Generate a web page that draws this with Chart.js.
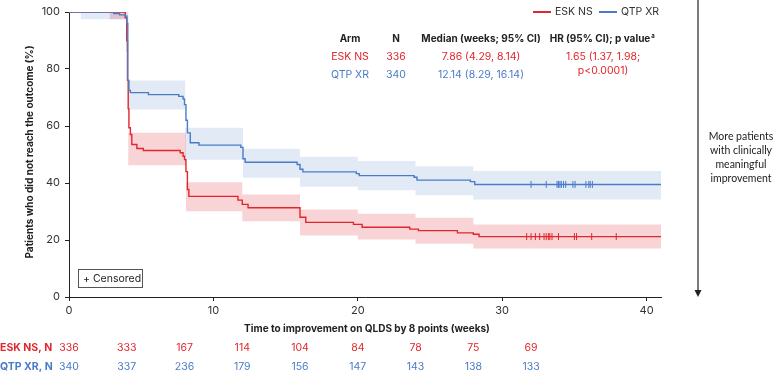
<!DOCTYPE html>
<html>
<head>
<meta charset="utf-8">
<script src="https://cdn.jsdelivr.net/npm/chart.js@4.4.1/dist/chart.umd.min.js"></script>
<style>
    html, body { margin: 0; padding: 0; background: #fff; }
    #wrap { width: 775px; height: 373px; position: relative; }
</style>
</head>
<body>
<div id="wrap"><canvas id="km"></canvas></div>
<script>
(function () {
    'use strict';

    // Kaplan-Meier steps (weeks, % not reaching outcome)
    var eskTimes = [0, 3.9, 4.0, 4.05, 4.1, 4.15, 4.25, 4.35, 4.7, 5.15, 7.7, 7.9, 8.0, 8.1, 8.2, 8.3, 11.7, 12.0, 12.4, 16.0, 16.4, 19.7, 20.3, 23.6, 24.2, 26.9, 28.0, 28.4, 41];
    var eskValues = [100, 98, 90, 76, 66, 59.4, 57, 53.5, 52.1, 51.4, 50.6, 49.4, 48.2, 44, 37.7, 35.3, 34, 32.5, 31.3, 28, 26.2, 25.5, 24.5, 23.8, 23.3, 22.5, 22, 21.2, 21.2];
    var qtpTimes = [0, 3.1, 3.5, 3.9, 4.0, 4.07, 4.15, 4.25, 5.5, 7.6, 7.9, 8.0, 8.1, 8.2, 8.4, 9.0, 11.9, 12.05, 12.2, 15.8, 16.0, 16.2, 19.9, 20.1, 23.9, 24.1, 27.8, 28.1, 41];
    var qtpValues = [100, 99.5, 99, 98.5, 96, 76, 72.5, 71.7, 71, 70.4, 69.5, 67.5, 62, 57.6, 54.1, 53.3, 52.5, 48.5, 47.3, 46.5, 44.8, 43.9, 43.3, 42.6, 42, 41, 40.5, 39.5, 39.5];

    // 95% CI bands
    var eskBandTimes = [2.8, 3.95, 4.1, 8.1, 12.0, 16.0, 20.0, 24.0, 28.0, 41];
    var eskUpper = [100, 99, 57.6, 40.3, 36, 30.7, 29.2, 27.8, 25.4, 25.4];
    var eskLower = [97.5, 86, 46.2, 30.1, 26.6, 21.6, 20.2, 18.7, 17, 17];
    var qtpBandTimes = [0.8, 3.95, 4.1, 8.05, 12.05, 16.0, 20.0, 24.0, 28.0, 41];
    var qtpUpper = [100, 100, 76, 59.4, 52, 49.2, 47.7, 45.9, 44.2, 44.2];
    var qtpLower = [97.5, 93, 65.8, 48.2, 41.8, 38.7, 37.5, 35.7, 34.2, 34.2];

    // censoring times
    var eskCensored = [31.7, 32.0, 32.3, 32.6, 32.9, 33.05, 33.2, 33.3, 33.45, 33.9, 35.0, 35.15, 36.2, 37.9];
    var qtpCensored = [32.0, 33.05, 33.8, 33.9, 34.0, 34.1, 34.25, 34.4, 34.9, 35.05, 35.8, 36.0, 36.1, 36.25];

    // numbers at risk
    var riskWeeks = [0, 4, 8, 12, 16, 20, 24, 28, 32];
    var eskAtRisk = [336, 333, 167, 114, 104, 84, 78, 75, 69];
    var qtpAtRisk = [340, 337, 236, 179, 156, 147, 143, 138, 133];

    var xTicks = [0, 10, 20, 30, 40];
    var yTicks = [0, 20, 40, 60, 80, 100];

    var RED = '#e2262d';
    var BLUE = '#4a7cc6';
    var INK = '#222';
    var FONT = 'Inter, "Liberation Sans", sans-serif';

    function pts(times, values) {
        return times.map(function (t, i) { return { x: t, y: values[i] }; });
    }

    function valueAt(times, values, t) {
        var v = values[0];
        for (var i = 0; i < times.length; i++) {
            if (times[i] <= t) v = values[i];
        }
        return v;
    }

    function censorPts(cens, times, values) {
        return cens.map(function (t) { return { x: t, y: valueAt(times, values, t) }; });
    }

    function text(ctx, s, x, y, color, size, weight, align) {
        ctx.font = (weight || 'normal') + ' ' + size + 'px ' + FONT;
        ctx.fillStyle = color;
        ctx.textAlign = align || 'left';
        ctx.textBaseline = 'middle';
        ctx.fillText(s, x, y);
    }

    var annotations = {
        id: 'kmAnnotations',
        afterDraw: function (chart) {
            var ctx = chart.ctx;
            var xs = chart.scales.x;
            ctx.save();

            // legend
            ctx.lineWidth = 2;
            ctx.strokeStyle = RED;
            ctx.beginPath(); ctx.moveTo(533, 12); ctx.lineTo(551, 12); ctx.stroke();
            ctx.strokeStyle = BLUE;
            ctx.beginPath(); ctx.moveTo(599, 12); ctx.lineTo(617, 12); ctx.stroke();
            text(ctx, 'ESK NS', 555, 12, '#333', 10.5);
            text(ctx, 'QTP XR', 621, 12, '#333', 10.5);

            // summary table
            text(ctx, 'Arm', 350, 39, INK, 10, 'bold', 'center');
            text(ctx, 'N', 396, 39, INK, 10, 'bold', 'center');
            text(ctx, 'Median (weeks; 95% CI)', 481, 39, INK, 10, 'bold', 'center');
            text(ctx, 'HR (95% CI); p value', 600, 39, INK, 10, 'bold', 'center');
            ctx.font = 'bold 10px ' + FONT;
            var hw = ctx.measureText('HR (95% CI); p value').width;
            text(ctx, 'a', 600 + hw / 2 + 1, 36, INK, 6, 'bold');

            text(ctx, 'ESK NS', 350, 57, RED, 10.5, 'normal', 'center');
            text(ctx, '336', 396, 57, RED, 10.5, 'normal', 'center');
            text(ctx, '7.86 (4.29, 8.14)', 481, 57, RED, 10.5, 'normal', 'center');
            text(ctx, '1.65 (1.37, 1.98;', 603, 57, RED, 10.5, 'normal', 'center');
            text(ctx, 'p<0.0001)', 603, 71, RED, 10.5, 'normal', 'center');
            text(ctx, 'QTP XR', 350, 75, BLUE, 10.5, 'normal', 'center');
            text(ctx, '340', 396, 75, BLUE, 10.5, 'normal', 'center');
            text(ctx, '12.14 (8.29, 16.14)', 481, 75, BLUE, 10.5, 'normal', 'center');

            // censored key
            ctx.lineWidth = 1;
            ctx.strokeStyle = '#555';
            ctx.strokeRect(78.5, 269.5, 64, 18);
            text(ctx, '+ Censored', 83, 279, INK, 10.5);

            // axis titles
            ctx.save();
            ctx.translate(30, 152);
            ctx.rotate(-Math.PI / 2);
            text(ctx, 'Patients who did not reach the outcome (%)', 0, 0, INK, 10, 'bold', 'center');
            ctx.restore();
            text(ctx, 'Time to improvement on QLDS by 8 points (weeks)', 367, 329, INK, 10, 'bold', 'center');

            // numbers at risk
            text(ctx, 'ESK NS, N', 0, 348, RED, 10.5, 'bold');
            text(ctx, 'QTP XR, N', 0, 367, BLUE, 10.5, 'bold');
            riskWeeks.forEach(function (w, i) {
                var px = xs.getPixelForValue(w);
                text(ctx, String(eskAtRisk[i]), px, 348, RED, 10.5, 'normal', 'center');
                text(ctx, String(qtpAtRisk[i]), px, 367, BLUE, 10.5, 'normal', 'center');
            });

            // direction arrow
            ctx.strokeStyle = INK;
            ctx.fillStyle = INK;
            ctx.lineWidth = 1.2;
            ctx.beginPath(); ctx.moveTo(698, 0); ctx.lineTo(698, 291); ctx.stroke();
            ctx.beginPath(); ctx.moveTo(694.5, 290); ctx.lineTo(701.5, 290); ctx.lineTo(698, 297); ctx.closePath(); ctx.fill();

            var lines = ['More patients', 'with clinically', 'meaningful', 'improvement'];
            ctx.font = '10.5px Lato, "Open Sans", sans-serif';
            ctx.fillStyle = INK;
            ctx.textAlign = 'center';
            ctx.textBaseline = 'middle';
            lines.forEach(function (l, i) {
                ctx.fillText(l, 741, 137 + i * 14);
            });

            ctx.restore();
        }
    };

    var bandBase = { pointRadius: 0, borderWidth: 0, stepped: true, order: 3 };

    var datasets = [
        Object.assign({ data: pts(qtpBandTimes, qtpUpper), fill: false, backgroundColor: 'rgba(74,124,198,0.16)' }, bandBase),
        Object.assign({ data: pts(qtpBandTimes, qtpLower), fill: '-1', backgroundColor: 'rgba(74,124,198,0.16)' }, bandBase),
        Object.assign({ data: pts(eskBandTimes, eskUpper), fill: false, backgroundColor: 'rgba(226,60,70,0.22)' }, bandBase),
        Object.assign({ data: pts(eskBandTimes, eskLower), fill: '-1', backgroundColor: 'rgba(226,60,70,0.22)' }, bandBase),
        {
            label: 'QTP XR', data: pts(qtpTimes, qtpValues), stepped: true,
            borderColor: BLUE, borderWidth: 1.4, pointRadius: 0, fill: false, order: 1
        },
        {
            label: 'ESK NS', data: pts(eskTimes, eskValues), stepped: true,
            borderColor: RED, borderWidth: 1.4, pointRadius: 0, fill: false, order: 1
        },
        {
            type: 'scatter', data: censorPts(qtpCensored, qtpTimes, qtpValues),
            pointStyle: 'line', rotation: 90, pointRadius: 3.5, borderColor: BLUE, borderWidth: 1, order: 0
        },
        {
            type: 'scatter', data: censorPts(eskCensored, eskTimes, eskValues),
            pointStyle: 'line', rotation: 90, pointRadius: 3.5, borderColor: RED, borderWidth: 1, order: 0
        }
    ];

    new Chart(document.getElementById('km'), {
        type: 'line',
        data: { datasets: datasets },
        plugins: [annotations],
        options: {
            responsive: true,
            maintainAspectRatio: false,
            animation: false,
            layout: { padding: { left: 0, right: 114, top: 12, bottom: 0 } },
            plugins: {
                legend: { display: false },
                tooltip: { enabled: false }
            },
            scales: {
                x: {
                    type: 'linear',
                    min: 0,
                    max: 41,
                    afterFit: function (scale) { scale.height = 76; },
                    afterBuildTicks: function (scale) {
                        scale.ticks = xTicks.map(function (v) { return { value: v }; });
                    },
                    ticks: { color: '#333', padding: 3, font: { family: FONT, size: 11 } },
                    grid: { drawOnChartArea: false, tickLength: 4, color: INK },
                    border: { color: INK, width: 1 }
                },
                y: {
                    min: 0,
                    max: 100,
                    afterFit: function (scale) { scale.width = 69; },
                    afterBuildTicks: function (scale) {
                        scale.ticks = yTicks.map(function (v) { return { value: v }; });
                    },
                    ticks: { color: '#333', padding: 5, font: { family: FONT, size: 11 } },
                    grid: { drawOnChartArea: false, tickLength: 4, color: INK },
                    border: { color: INK, width: 1 }
                }
            }
        }
    });
})();
</script>
</body>
</html>
